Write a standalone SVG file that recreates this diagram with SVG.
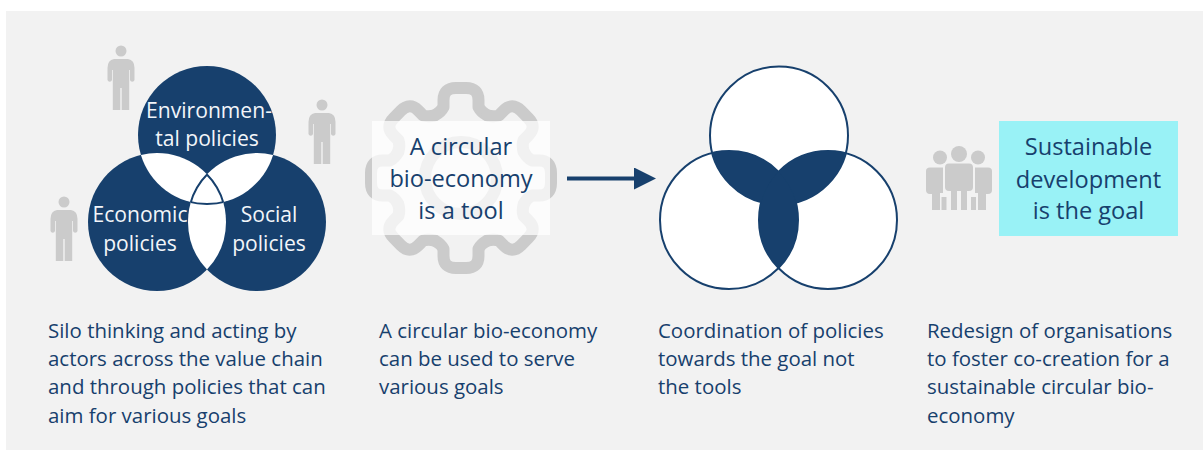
<svg xmlns="http://www.w3.org/2000/svg" xmlns:xlink="http://www.w3.org/1999/xlink" width="1203" height="450" viewBox="0 0 1203 450">
<style>
text{font-family:"Open Sans","Noto Sans","Liberation Sans",sans-serif;fill:#17406d}
.cap{font-size:20.45px}
.lab{font-size:21.1px;fill:#f2f5f9;text-anchor:middle}
.big{font-size:23.6px;text-anchor:middle}
.d{fill:#17406d}
.o{fill:none;stroke:#17406d;stroke-width:2}
.g{fill:#cbcbcb}
.gear{fill:none;stroke:#cbcbcb;stroke-width:12;stroke-linecap:round;stroke-linejoin:round}
</style>
<defs>
<clipPath id="aT"><circle cx="207" cy="135" r="69"/></clipPath>
<clipPath id="aL"><circle cx="157" cy="222" r="69"/></clipPath>
<clipPath id="aR"><circle cx="257" cy="222" r="69"/></clipPath>
<clipPath id="aTL" clip-path="url(#aL)"><circle cx="207" cy="135" r="69"/></clipPath>
<clipPath id="aTR" clip-path="url(#aR)"><circle cx="207" cy="135" r="69"/></clipPath>
<clipPath id="aLR" clip-path="url(#aR)"><circle cx="157" cy="222" r="69"/></clipPath>
<clipPath id="bL"><circle cx="729" cy="220" r="69"/></clipPath>
<clipPath id="bR"><circle cx="828" cy="220" r="69"/></clipPath>
<clipPath id="bTL" clip-path="url(#bL)"><circle cx="779" cy="135.5" r="69"/></clipPath>
<clipPath id="bTR" clip-path="url(#bR)"><circle cx="779" cy="135.5" r="69"/></clipPath>
<clipPath id="bLR" clip-path="url(#bR)"><circle cx="729" cy="220" r="69"/></clipPath>
<g id="person"><circle cx="0" cy="0" r="5.5"/><path d="M-7 8H7Q13.5 9 13.5 17V29A2.3 2.300 0 0 1 9 29V19H8.200V59H0.700V37H-0.700V59H-8.200V19H-9V29A2.300 2.300 0 0 1 -13.500 29V17Q-13.500 9 -7 8Z"/></g>
<path id="tooth" d="M-26 -62.800Q-20 -66 -17.500 -71V-78Q-17.500 -90 -5 -90H5Q17.500 -90 17.500 -78V-71Q20 -66 26 -62.800"/>
<marker id="ah" markerUnits="userSpaceOnUse" markerWidth="22" markerHeight="22" refX="0" refY="11" orient="auto"><path class="d" d="M0 0L22 11L0 22Z"/></marker>
</defs>
<rect id="panel-margin" width="1203" height="450" fill="#fff"/>
<rect id="panel" x="6" y="11" width="1197" height="439" fill="#f2f2f2"/>

<g id="actors" class="g">
<use xlink:href="#person" href="#person" x="121" y="51"/>
<use xlink:href="#person" href="#person" x="322" y="105"/>
<use xlink:href="#person" href="#person" x="64" y="202"/>
</g>

<g id="silo-venn">
<g class="d"><circle cx="207" cy="135" r="69"/><circle cx="157" cy="222" r="69"/><circle cx="257" cy="222" r="69"/></g>
<g fill="#fff">
<rect x="80" y="60" width="260" height="240" clip-path="url(#aTL)"/>
<rect x="80" y="60" width="260" height="240" clip-path="url(#aTR)"/>
<rect x="80" y="60" width="260" height="240" clip-path="url(#aLR)"/>
</g>
<g clip-path="url(#aLR)"><circle class="o" cx="207" cy="135" r="69"/></g>
<g clip-path="url(#aTR)"><circle class="o" cx="157" cy="222" r="69"/></g>
<g clip-path="url(#aTL)"><circle class="o" cx="257" cy="222" r="69"/></g>
<text class="lab"><tspan x="209" y="118">Environmen-</tspan><tspan x="207" y="146">tal policies</tspan></text>
<text class="lab"><tspan x="140" y="222">Economic</tspan><tspan x="140" y="251">policies</tspan></text>
<text class="lab"><tspan x="269" y="222">Social</tspan><tspan x="269" y="251">policies</tspan></text>
</g>

<g id="tool">
<g class="gear" transform="translate(461 178)">
<circle r="36"/>
<use xlink:href="#tooth" href="#tooth"/>
<use xlink:href="#tooth" href="#tooth" transform="rotate(45)"/>
<use xlink:href="#tooth" href="#tooth" transform="rotate(90)"/>
<use xlink:href="#tooth" href="#tooth" transform="rotate(135)"/>
<use xlink:href="#tooth" href="#tooth" transform="rotate(180)"/>
<use xlink:href="#tooth" href="#tooth" transform="rotate(225)"/>
<use xlink:href="#tooth" href="#tooth" transform="rotate(270)"/>
<use xlink:href="#tooth" href="#tooth" transform="rotate(315)"/>
</g>
<rect x="372" y="121" width="178" height="114" fill="#fff" fill-opacity=".72"/>
<text class="big"><tspan x="461" y="155">A circular</tspan><tspan x="461" y="187">bio-economy</tspan><tspan x="461" y="219">is a tool</tspan></text>
</g>

<g id="connectors"><line x1="567" y1="178.500" x2="634" y2="178.500" stroke="#17406d" stroke-width="4" marker-end="url(#ah)"/></g>

<g id="coordinated-venn">
<g fill="#fff"><circle cx="779" cy="135.500" r="69"/><circle cx="729" cy="220" r="69"/><circle cx="828" cy="220" r="69"/></g>
<g class="o"><circle cx="779" cy="135.500" r="69"/><circle cx="729" cy="220" r="69"/><circle cx="828" cy="220" r="69"/></g>
<g class="d">
<rect x="650" y="60" width="260" height="240" clip-path="url(#bTL)"/>
<rect x="650" y="60" width="260" height="240" clip-path="url(#bTR)"/>
<rect x="650" y="60" width="260" height="240" clip-path="url(#bLR)"/>
</g>
</g>

<g id="people" class="g">
<circle cx="959" cy="154" r="8"/><circle cx="940" cy="157.500" r="7"/><circle cx="978" cy="157.500" r="7"/>
<path d="M930 167.500H943V193H940V210H932V194H930Q926 194 926 190V171Q926 167.500 930 167.500Z"/>
<path d="M988 167.500H975V193H978V210H986V194H988Q992 194 992 190V171Q992 167.500 988 167.500Z"/>
<rect x="941.500" y="197" width="5" height="13"/><rect x="971" y="197" width="5" height="13"/>
<path d="M949 163.500H969Q973 163.500 973 167.500V187Q973 191 969 191H967V210H961V191H957V210H951V191H949Q945 191 945 187V167.500Q945 163.500 949 163.500Z"/>
</g>

<g id="goal">
<rect x="999" y="121" width="179" height="115" fill="#99f2f6"/>
<text class="big"><tspan x="1088.500" y="155">Sustainable</tspan><tspan x="1088.500" y="188">development</tspan><tspan x="1088.500" y="219">is the goal</tspan></text>
</g>

<g id="captions" class="cap">
<text><tspan x="48" y="338">Silo thinking and acting by</tspan><tspan x="48" y="366">actors across the value chain</tspan><tspan x="48" y="394">and through policies that can</tspan><tspan x="48" y="423">aim for various goals</tspan></text>
<text><tspan x="379" y="338">A circular bio-economy</tspan><tspan x="379" y="366">can be used to serve</tspan><tspan x="379" y="394">various goals</tspan></text>
<text><tspan x="658" y="338">Coordination of policies</tspan><tspan x="658" y="366">towards the goal not</tspan><tspan x="658" y="394">the tools</tspan></text>
<text><tspan x="927" y="338">Redesign of organisations</tspan><tspan x="927" y="366">to foster co-creation for a</tspan><tspan x="927" y="394">sustainable circular bio-</tspan><tspan x="927" y="423">economy</tspan></text>
</g>
</svg>
